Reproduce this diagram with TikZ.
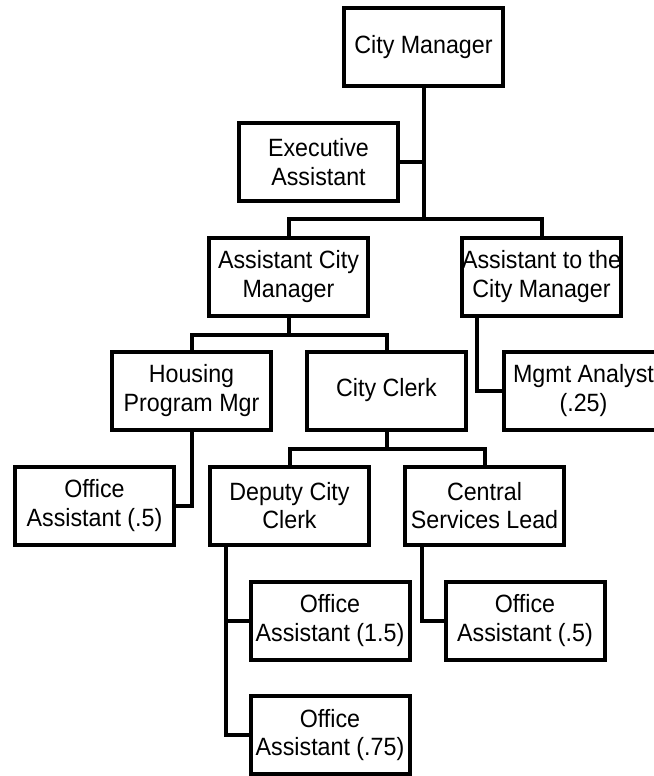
\documentclass[tikz,border=0pt]{standalone}
\usepackage{fontspec}
\setmainfont[FakeStretch=0.93]{Liberation Sans}
\begin{document}
\begin{tikzpicture}[x=1pt,y=-1pt,
  orgbox/.style={draw=black,line width=4pt,fill=white,minimum width=159pt,minimum height=78pt,
    inner sep=0pt,align=center,font=\fontsize{25}{28.3}\selectfont},
  conn/.style={draw=black,line width=4pt,line join=miter}]
\useasboundingbox (0,0) rectangle (653,776);
% nodes
\node[orgbox] (CM)   at (423.5,47)  {City Manager};
\node[orgbox] (EA)   at (318.5,162) {Executive\\Assistant};
\node[orgbox] (ACM)  at (288.5,276.5) {Assistant City\\Manager};
\node[orgbox] (ATCM) at (541.5,276.5) {Assistant to the\\City Manager};
\node[orgbox] (HPM)  at (191.5,390.5) {Housing\\Program Mgr};
\node[orgbox] (CC)   at (386.5,390.5) {City Clerk};
\node[orgbox] (MA)   at (583.5,390.5) {Mgmt Analyst\\(.25)};
\node[orgbox] (OAL)  at (94.5,505.5)  {Office\\Assistant (.5)};
\node[orgbox] (DCC)  at (289.5,505.5) {Deputy City\\Clerk};
\node[orgbox] (CSL)  at (484.5,505.5) {Central\\Services Lead};
\node[orgbox] (OA15) at (330,620.5)   {Office\\Assistant (1.5)};
\node[orgbox] (OAR)  at (525,620.5)   {Office\\Assistant (.5)};
\node[orgbox] (OA75) at (330,735)     {Office\\Assistant (.75)};
% junction coordinates
\coordinate (b1) at (423.5,219);
\coordinate (b2) at (288.5,335);
\coordinate (b3) at (386.5,449);
\coordinate (a1) at (477,318);
\coordinate (d1) at (226,546);
\coordinate (c1) at (422,546);
% connectors
\draw[conn] (CM.south) -- (b1);
\draw[conn] (CM.south |- EA.east) -- (EA.east);
\draw[conn] (ACM.north) |- (b1) -| (ATCM.north);
\draw[conn] (ACM.south) -- (b2);
\draw[conn] (HPM.north) |- (b2) -| (CC.north);
\draw[conn] (a1) |- (MA.west);
\draw[conn] (HPM.south) |- (OAL.east);
\draw[conn] (CC.south) -- (b3);
\draw[conn] (DCC.north) |- (b3) -| (CSL.north);
\draw[conn] (d1) |- (OA75.west);
\draw[conn] (d1 |- OA15.west) -- (OA15.west);
\draw[conn] (c1) |- (OAR.west);
\end{tikzpicture}
\end{document}
